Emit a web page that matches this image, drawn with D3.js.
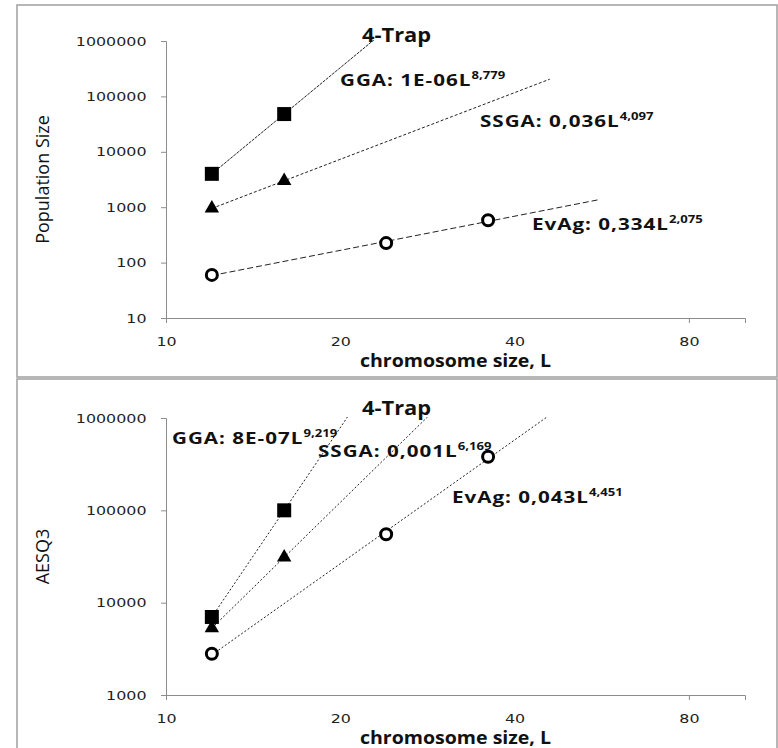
<!DOCTYPE html>
<html>
<head>
<meta charset="utf-8">
<script src="https://cdn.jsdelivr.net/npm/d3@7"></script>
<style>
  body { margin: 0; background: #fff; }
</style>
</head>
<body>
<svg id="chart" width="778" height="748"></svg>
<script>
// chromosome sizes used for each algorithm
var lenGGA = [12, 16];
var lenSSGA = [12, 16];
var lenEvAg = [12, 24, 36];

// top panel: population size
var popGGA = [4000, 48000];
var popSSGA = [950, 3000];
var popEvAg = [60, 225, 580];

// bottom panel: AESQ3
var aesGGA = [7000, 100000];
var aesSSGA = [5300, 31000];
var aesEvAg = [2800, 55000, 380000];

// last L reached by each power trendline (GGA, SSGA, EvAg)
var popTrendEnd = [40, 46, 56];
var aesTrendEnd = [100, 100, 100];

// fit labels
var popFitText = ["GGA: 1E-06L", "SSGA: 0,036L", "EvAg: 0,334L"];
var popFitExp = ["8,779", "4,097", "2,075"];
var aesFitText = ["GGA: 8E-07L", "SSGA: 0,001L", "EvAg: 0,043L"];
var aesFitExp = ["9,219", "6,169", "4,451"];

var xTicks = [10, 20, 40, 80];
var popTicks = [10, 100, 1000, 10000, 100000, 1000000];
var aesTicks = [1000, 10000, 100000, 1000000];

var svg = d3.select("#chart");
var SX = 1.15;   // the source picture is stretched sideways

// Power fit in log-log space, like an Excel trendline
function powerFit(xs, ys) {
    var lx = xs.map(Math.log), ly = ys.map(Math.log);
    var mx = d3.mean(lx), my = d3.mean(ly);
    var b = d3.sum(lx, (v, i) => (v - mx) * (ly[i] - my)) / d3.sum(lx, v => (v - mx) * (v - mx));
    var a = Math.exp(my - b * mx);
    return x => a * Math.pow(x, b);
}

function addText(g, x, y, str, size, weight, sx) {
    return g.append("text")
        .attr("transform", `translate(${x},${y}) scale(${sx || SX},1)`)
        .attr("font-family", "Open Sans")
        .attr("font-size", size)
        .attr("font-weight", weight)
        .attr("fill", "#111")
        .text(str);
}

function fitLabel(x, y, str, sup) {
    var t = addText(svg, x, y, "", 16.5, 700, 1.25);
    t.append("tspan")
        .attr("letter-spacing", 0.8)
        .text(str);
    t.append("tspan")
        .attr("dy", -7)
        .attr("font-size", 10.5)
        .text(sup);
}

function drawPanel(p) {
    // frame
    svg.append("rect")
        .attr("x", 17).attr("y", p.frameTop)
        .attr("width", 760).attr("height", p.frameH)
        .attr("fill", "#fff")
        .attr("stroke", "#a6a6a6")
        .attr("stroke-width", 1.6);

    var left = 166, right = 745, top = p.top, bottom = p.top + 277;

    var x = d3.scaleLog().domain([10, 100]).range([left, right]);
    var y = d3.scaleLog().domain(p.yDomain).range([bottom, top]);

    var clipId = "clip" + p.id;
    svg.append("clipPath").attr("id", clipId)
        .append("rect")
        .attr("x", left).attr("y", top - 1)
        .attr("width", right - left).attr("height", bottom - top + 1);

    // axes
    var yAxis = svg.append("g")
        .attr("transform", `translate(${left},0)`)
        .call(d3.axisLeft(y).tickValues(p.yTicks).tickFormat(d3.format("d")).tickSize(5).tickPadding(11));
    var xAxis = svg.append("g")
        .attr("transform", `translate(0,${bottom})`)
        .call(d3.axisBottom(x).tickValues(xTicks).tickFormat(d3.format("d")).tickSize(5).tickPadding(14));

    [yAxis, xAxis].forEach(function(ax) {
        ax.select(".domain").attr("stroke", "#8c8c8c");
        ax.selectAll(".tick line").attr("stroke", "#8c8c8c");
        ax.selectAll(".tick text")
            .attr("font-family", "DejaVu Sans")
            .attr("font-size", 13)
            .attr("fill", "#222")
            .attr("transform", `scale(${SX + 0.07},1)`);
    });
    // Excel only showed the end ticks on the log2 axis
    xAxis.selectAll(".tick line").filter(d => d === 20 || d === 40).remove();

    // trendlines
    var series = p.series;
    var trend = svg.append("g").attr("clip-path", `url(#${clipId})`);
    series.forEach(function(s, i) {
        var f = powerFit(s.len, s.val);
        var x0 = d3.min(s.len), x1 = p.trendEnd[i];
        trend.append("line")
            .attr("x1", x(x0)).attr("y1", y(f(x0)))
            .attr("x2", x(x1)).attr("y2", y(f(x1)))
            .attr("stroke", "#222")
            .attr("stroke-width", 1)
            .attr("stroke-dasharray", p.dash[i]);
    });

    // markers
    var sq = d3.symbol().type(d3.symbolSquare).size(196);
    var tri = d3.symbol().type(d3.symbolTriangle).size(90);

    svg.append("g").selectAll("path")
        .data(d3.zip(series[0].len, series[0].val))
        .enter().append("path")
        .attr("d", sq)
        .attr("transform", d => `translate(${x(d[0])},${y(d[1])})`)
        .attr("fill", "#000");

    svg.append("g").selectAll("path")
        .data(d3.zip(series[1].len, series[1].val))
        .enter().append("path")
        .attr("d", tri)
        .attr("transform", d => `translate(${x(d[0])},${y(d[1])})`)
        .attr("fill", "#000");

    svg.append("g").selectAll("circle")
        .data(d3.zip(series[2].len, series[2].val))
        .enter().append("circle")
        .attr("cx", d => x(d[0]))
        .attr("cy", d => y(d[1]))
        .attr("r", 5.5)
        .attr("fill", "#fff")
        .attr("stroke", "#000")
        .attr("stroke-width", 3);

    // titles
    addText(svg, 362, p.titleY, "4-Trap", 19, 700);
    addText(svg, (left + right) / 2, bottom + 49, "chromosome size, L", 17, 700)
        .attr("text-anchor", "middle");
    svg.append("text")
        .attr("transform", `translate(49,${(top + bottom) / 2}) rotate(-90)`)
        .attr("text-anchor", "middle")
        .attr("font-family", "Open Sans")
        .attr("font-size", 18)
        .attr("font-weight", 500)
        .attr("fill", "#111")
        .text(p.yTitle);

    // fit labels
    p.labelPos.forEach(function(pos, i) {
        fitLabel(pos[0], pos[1], p.fitText[i], p.fitExp[i]);
    });
}

drawPanel({
    id: "Pop", frameTop: 5, frameH: 372, top: 41,
    yDomain: [10, 1000000], yTicks: popTicks, yTitle: "Population Size",
    titleY: 42,
    series: [
        {len: lenGGA, val: popGGA},
        {len: lenSSGA, val: popSSGA},
        {len: lenEvAg, val: popEvAg}
    ],
    trendEnd: popTrendEnd,
    dash: ["3,1", "3,2", "6,3"],
    fitText: popFitText, fitExp: popFitExp,
    labelPos: [[340, 86], [480, 127], [532, 230]]
});

drawPanel({
    id: "Aes", frameTop: 379, frameH: 380, top: 418,
    yDomain: [1000, 1000000], yTicks: aesTicks, yTitle: "AESQ3",
    titleY: 415,
    series: [
        {len: lenGGA, val: aesGGA},
        {len: lenSSGA, val: aesSSGA},
        {len: lenEvAg, val: aesEvAg}
    ],
    trendEnd: aesTrendEnd,
    dash: ["2,2", "2,2", "2,2"],
    fitText: aesFitText, fitExp: aesFitExp,
    labelPos: [[172, 444], [318, 457], [452, 503]]
});
</script>
</body>
</html>
